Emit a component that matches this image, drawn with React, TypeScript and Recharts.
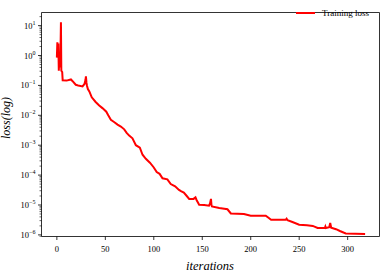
import React from 'react';
import { LineChart, Line, XAxis, YAxis, Legend, ReferenceLine } from 'recharts';

const iterations = [
  0, 0.5, 1, 1.5, 2, 2.7, 3.5, 4.2, 4.6, 5.5, 6, 10, 14.5, 16, 19.5, 22, 26.5, 28.5, 29.5, 30, 30.5, 31, 32, 33.5,
  36, 40, 43.7, 47, 51, 53, 55.7, 59, 62.6, 66, 69.5, 72, 74.6, 78, 81.5, 85.6, 88.4, 91.8, 96, 100, 103, 106,
  109, 114, 117.5, 122, 126, 128, 131, 134, 136.5, 141, 143, 144, 146.8, 152, 157, 158, 159, 159.5, 160, 167.5,
  176, 179.5, 193, 200, 215.5, 218, 221, 230, 236, 237, 238, 243, 250, 258, 264, 269, 276.5, 277, 277.5, 281,
  282, 283, 288, 292, 298, 318,
];
const trainingLoss = [
  0.85, 2.8, 0.85, 2.5, 0.31, 1.0, 0.4, 13, 0.31, 0.28, 0.148, 0.145, 0.158, 0.141, 0.105, 0.1, 0.093, 0.112, 0.151, 0.2, 0.126, 0.1, 0.076, 0.063,
  0.04, 0.028, 0.0214, 0.0174, 0.0132, 0.01, 0.0071, 0.006, 0.0049, 0.0042, 0.0034, 0.0026, 0.0021, 0.0017, 0.001, 8.3e-4, 4.8e-4, 3.5e-4, 2.6e-4, 1.8e-4, 1.26e-4, 1.1e-4,
  7.8e-5, 7.2e-5, 5.0e-5, 4.2e-5, 3.2e-5, 2.9e-5, 2.6e-5, 2.0e-5, 1.6e-5, 1.6e-5, 1.8e-5, 1.5e-5, 1.02e-5, 1.0e-5, 9.5e-6, 1.12e-5, 1.6e-5, 1.0e-5, 8.9e-6, 7.9e-6,
  7.2e-6, 5.2e-6, 5.0e-6, 4.4e-6, 4.4e-6, 3.8e-6, 3.2e-6, 3.2e-6, 3.2e-6, 3.5e-6, 3.1e-6, 2.7e-6, 2.2e-6, 2.1e-6, 2.0e-6, 1.7e-6, 1.7e-6, 1.9e-6, 1.7e-6, 1.8e-6,
  2.5e-6, 1.74e-6, 1.55e-6, 1.35e-6, 1.12e-6, 1.07e-6,
];

const xTicks = [0, 50, 100, 150, 200, 250, 300];
const yMajorExponents = [-6, -5, -4, -3, -2, -1, 0, 1];
const yMinorMultipliers = [2, 3, 4, 5, 6, 7, 8, 9];
const seriesName = 'Training loss';
const xLabel = 'iterations';
const yLabel = 'loss(log)';

const Y_MIN = 8.83e-7;
const Y_MAX = 27.5;
const X_MIN = -15.85;
const X_MAX = 332.85;

const data = iterations.map((it, i) => ({ it, loss: trainingLoss[i] }));

const yTicks: number[] = [];
yMajorExponents.forEach((e) => {
  yTicks.push(Math.pow(10, e));
  yMinorMultipliers.forEach((m) => {
    const v = m * Math.pow(10, e);
    if (v > Y_MIN && v < Y_MAX) yTicks.push(v);
  });
});
yMinorMultipliers.forEach((m) => {
  const v = m * 1e-7;
  if (v > Y_MIN) yTicks.push(v);
});

const FONT = '"Liberation Serif", "DejaVu Serif", serif';

const YTick = (props: any) => {
  const { x, y, payload } = props;
  const v = payload.value;
  const lg = Math.log10(v);
  const major = Math.abs(lg - Math.round(lg)) < 1e-6;
  const exp = Math.round(lg);
  const expStr = exp < 0 ? '\u2212' + Math.abs(exp) : String(exp);
  return (
    <g>
      <line x1={x - (major ? 3.5 : 2)} x2={x} y1={y} y2={y} stroke="#000" strokeWidth={major ? 0.8 : 0.6} />
      {major && (
        <text x={x - 6} y={y + 3} textAnchor="end" fontFamily={FONT} fontSize={8.5} fill="#000">
          10<tspan dy={-4} fontSize={6}>{expStr}</tspan>
        </text>
      )}
    </g>
  );
};

const XTick = (props: any) => {
  const { x, y, payload } = props;
  return (
    <g>
      <line x1={x} x2={x} y1={y} y2={y + 3.5} stroke="#000" strokeWidth={0.8} />
      <text x={x} y={y + 15} textAnchor="middle" fontFamily={FONT} fontSize={8.5} fill="#000">
        {payload.value}
      </text>
    </g>
  );
};

const LegendContent = () => (
  <div style={{ display: 'flex', alignItems: 'center', fontFamily: FONT, fontSize: 9, lineHeight: '12px', color: '#000' }}>
    <div style={{ width: 19, height: 2.5, background: '#ff0000', marginRight: 7 }} />
    <span>{seriesName}</span>
  </div>
);

export default function App() {
  return (
    <div style={{ position: 'absolute', left: 0, top: 0, width: 381, height: 273, background: '#fff' }}>
      <LineChart width={381} height={273} data={data} margin={{ top: 0.5, right: 1.5, left: 0, bottom: 0 }}>
        <XAxis
          dataKey="it"
          type="number"
          domain={[X_MIN, X_MAX]}
          allowDataOverflow
          ticks={xTicks}
          interval={0}
          tickSize={0}
          tickMargin={0}
          tick={<XTick />}
          axisLine={{ stroke: '#000', strokeWidth: 0.8 }}
          tickLine={false}
          height={36.5}
          label={{
            content: () => (
              <text x={210} y={270} textAnchor="middle" fontFamily={FONT} fontStyle="italic" fontSize={12.5} fill="#000">
                {xLabel}
              </text>
            ),
          }}
        />
        <YAxis
          scale="log"
          type="number"
          domain={[Y_MIN, Y_MAX]}
          allowDataOverflow
          ticks={yTicks}
          interval={0}
          tickSize={0}
          tickMargin={0}
          tick={<YTick />}
          tickLine={false}
          axisLine={{ stroke: '#000', strokeWidth: 0.8 }}
          width={41.5}
          label={{
            content: () => (
              <text x={10} y={118} transform="rotate(-90 10 118)" textAnchor="middle" fontFamily={FONT} fontStyle="italic" fontSize={12} fill="#000">
                {yLabel}
              </text>
            ),
          }}
        />
        <ReferenceLine y={Y_MAX} stroke="#000" strokeWidth={0.8} />
        <ReferenceLine x={X_MAX} stroke="#000" strokeWidth={0.8} />
        <Legend
          verticalAlign="top"
          align="right"
          content={<LegendContent />}
          wrapperStyle={{ position: 'absolute', top: 7, left: 296, width: 84, height: 12 }}
        />
        <Line
          dataKey="loss"
          name={seriesName}
          stroke="#ff0000"
          strokeWidth={2}
          dot={false}
          isAnimationActive={false}
          type="linear"
        />
      </LineChart>
    </div>
  );
}
